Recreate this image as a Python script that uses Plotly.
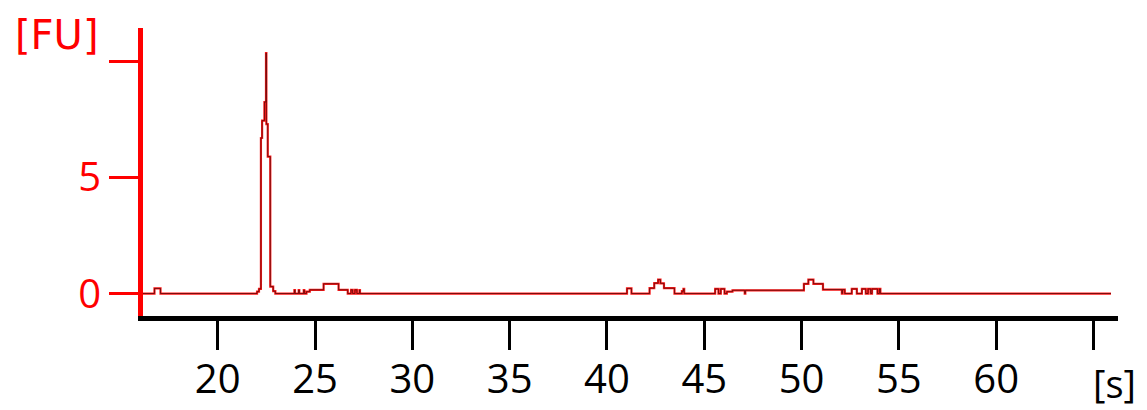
import plotly.graph_objects as go

# Electropherogram: change points (time [s], fluorescence [FU]) drawn as steps
time_s = [16.16, 16.75, 17.06, 22.02, 22.12, 22.22, 22.28, 22.40, 22.48, 22.50,
          22.57, 22.70, 22.85, 22.96,
          23.94, 23.97, 24.16, 24.19, 24.42, 24.45, 24.56, 24.73, 25.44, 26.21,
          26.68, 26.85, 26.93, 27.05, 27.15, 27.28, 27.31,
          41.03, 41.26, 42.19, 42.43, 42.63, 42.75, 42.93, 43.47, 43.85, 43.93, 43.97,
          45.56, 45.73, 45.85, 46.04, 46.16, 46.45, 47.08, 47.11,
          50.12, 50.35, 50.61, 51.10, 52.07, 52.10, 52.22, 52.58, 52.84,
          53.10, 53.30, 53.42, 53.55, 53.62, 53.90, 54.00, 54.05, 54.17, 65.9]
fu = [0.0, 0.22, 0.0, 0.08, 0.2, 6.7, 7.45, 8.25, 10.36, 7.3,
      5.9, 0.3, 0.1, 0.0,
      0.15, 0.0, 0.15, 0.0, 0.15, 0.0, 0.08, 0.16, 0.42, 0.16,
      0.0, 0.16, 0.0, 0.16, 0.0, 0.15, 0.0,
      0.22, 0.0, 0.23, 0.45, 0.6, 0.44, 0.23, 0.0, 0.1, 0.2, 0.0,
      0.2, 0.0, 0.2, 0.0, 0.08, 0.14, 0.0, 0.14,
      0.42, 0.6, 0.42, 0.17, 0.0, 0.17, 0.0, 0.2, 0.0,
      0.2, 0.0, 0.2, 0.0, 0.2, 0.0, 0.2, 0.0, 0.0, 0.0]

x_tickvals = [20, 25, 30, 35, 40, 45, 50, 55, 60, 65]
x_ticktext = ["20", "25", "30", "35", "40", "45", "50", "55", "60", ""]
y_tickvals = [0, 5, 10]
y_ticktext = ["0", "5", ""]
x_unit = "[s]"
y_unit = "[FU]"

FONT = "Open Sans"

fig = go.Figure()
fig.add_trace(go.Scatter(x=time_s, y=fu, mode="lines", line_shape="hv",
                         line=dict(color="#ff1a1a", width=2.2), hoverinfo="skip"))
fig.add_trace(go.Scatter(x=time_s, y=fu, mode="lines", line_shape="hv",
                         line=dict(color="#5a0a0a", width=0.8), hoverinfo="skip"))

fig.update_layout(
    width=1139, height=402, autosize=False,
    margin=dict(l=134.5, r=29, t=20, b=94.25, autoexpand=False),
    paper_bgcolor="white", plot_bgcolor="white",
    showlegend=False,
    xaxis=dict(range=[16.16, 66.26], tickmode="array", tickvals=x_tickvals, ticktext=x_ticktext,
               ticks="outside", ticklen=29, tickwidth=3.3, tickcolor="black",
               showline=True, linecolor="black", linewidth=4.5,
               showgrid=False, zeroline=False, automargin=False,
               tickfont=dict(family=FONT, size=40, color="black"),
               ticklabelstandoff=-5),
    yaxis=dict(range=[-0.968, 11.44], tickmode="array", tickvals=y_tickvals, ticktext=y_ticktext,
               ticks="outside", ticklen=29, tickwidth=3.3, tickcolor="#ff0000",
               showline=True, linecolor="#ff0000", linewidth=5,
               showgrid=False, zeroline=False, automargin=False,
               tickfont=dict(family=FONT, size=40, color="#ff0000"),
               ticklabelstandoff=0),
    annotations=[
        dict(text=y_unit, xref="paper", yref="paper", x=-0.0887, y=0.976,
             xanchor="center", yanchor="middle", showarrow=False,
             font=dict(family="DejaVu Sans", size=40, color="#ff0000")),
        dict(text=x_unit, xref="paper", yref="paper", x=0.996, y=-0.232,
             xanchor="center", yanchor="middle", showarrow=False,
             font=dict(family=FONT, size=38, color="black")),
    ],
)

fig.write_html("out.html")
